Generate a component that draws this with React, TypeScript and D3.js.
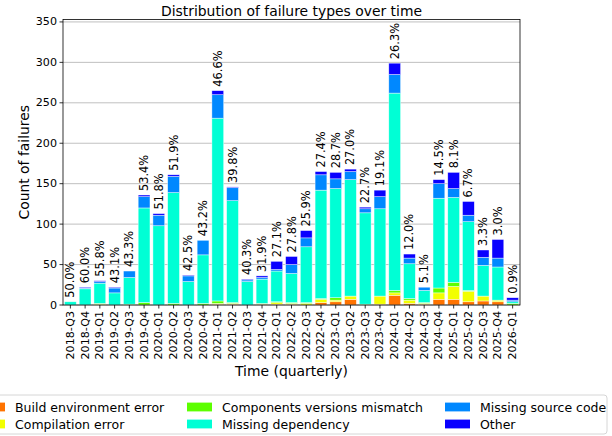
import React from "react";
import * as d3 from "d3";

const categories = [
  "2018-Q3", "2018-Q4",
  "2019-Q1", "2019-Q2", "2019-Q3", "2019-Q4",
  "2020-Q1", "2020-Q2", "2020-Q3", "2020-Q4",
  "2021-Q1", "2021-Q2", "2021-Q3", "2021-Q4",
  "2022-Q1", "2022-Q2", "2022-Q3", "2022-Q4",
  "2023-Q1", "2023-Q2", "2023-Q3", "2023-Q4",
  "2024-Q1", "2024-Q2", "2024-Q3", "2024-Q4",
  "2025-Q1", "2025-Q2", "2025-Q3", "2025-Q4",
  "2026-Q1",
];

const buildEnvironmentError = [0, 0, 0, 0, 0, 0, 0, 0, 0, 0, 1, 1, 0, 1, 1, 1, 0, 3, 4, 7, 0, 1, 12, 2, 1, 7, 7, 4, 5, 4, 0];
const compilationError = [0, 0, 1, 0, 0, 0, 0, 0, 0, 0, 1, 1, 0, 0, 2, 1, 2, 4, 2, 4, 0, 10, 3, 4, 1, 8, 16, 13, 6, 2, 0];
const componentsVersionsMismatch = [0, 0, 1, 0, 1, 3, 0, 2, 0, 2, 3, 1, 0, 1, 1, 1, 1, 1, 3, 0, 1, 0, 3, 2, 1, 6, 5, 1, 0, 0, 2];
const missingDependency = [4, 20, 25, 15, 33, 117, 98, 137, 29, 60, 226, 126, 29, 30, 38, 36, 69, 134, 135, 144, 113, 108, 244, 43, 15, 111, 105, 85, 38, 41, 2];
const missingSourceCode = [0, 1, 2, 6, 8, 14, 13, 20, 7, 18, 29, 16, 2, 2, 2, 11, 11, 19, 12, 10, 5, 15, 23, 7, 4, 18, 11, 8, 10, 11, 2];
const other = [0, 1, 1, 1, 0, 2, 2, 2, 1, 0, 5, 1, 1, 2, 10, 10, 9, 4, 8, 3, 2, 8, 14, 5, 0, 5, 20, 17, 9, 23, 3];

const percentLabels = [
  "50.0%", "60.0%", "55.8%", "43.1%", "43.3%", "53.4%", "51.8%", "51.9%",
  "42.5%", "43.2%", "46.6%", "39.8%", "40.3%", "31.9%", "27.1%", "27.8%",
  "25.9%", "27.4%", "28.7%", "27.0%", "22.7%", "19.1%", "26.3%", "12.0%",
  "5.1%", "14.5%", "8.1%", "6.7%", "3.3%", "3.0%", "0.9%",
];

const seriesNames = [
  "Build environment error",
  "Compilation error",
  "Components versions mismatch",
  "Missing dependency",
  "Missing source code",
  "Other",
];
const seriesValues = [
  buildEnvironmentError,
  compilationError,
  componentsVersionsMismatch,
  missingDependency,
  missingSourceCode,
  other,
];
const seriesColors = ["#ff7300", "#f2ff00", "#5cff00", "#00ffd5", "#0088ff", "#0a00ff"];

const yTicks = [0, 50, 100, 150, 200, 250, 300, 350];

const W = 612;
const H = 436;
const M = { left: 63, right: 520, top: 19.5, bottom: 305 };
const FONT = "DejaVu Sans, sans-serif";

export default function App() {
  const rows = categories.map((c, i) => {
    const r: any = { cat: c };
    seriesNames.forEach((s, k) => (r[s] = seriesValues[k][i]));
    return r;
  });
  const stacked = d3.stack().keys(seriesNames)(rows);
  const totals = categories.map((_, i) => seriesValues.reduce((a, s) => a + s[i], 0));

  const x = d3.scaleBand().domain(categories).range([M.left, M.right]).paddingInner(0.2).paddingOuter(0.1);
  const y = d3.scaleLinear().domain([0, 353]).range([M.bottom, M.top]);

  const legendCols = [
    { x: -20, items: [0, 1] },
    { x: 187, items: [2, 3] },
    { x: 445, items: [4, 5] },
  ];
  const legendRows = [407, 424];

  return (
    <svg width={W} height={H} style={{ position: "fixed", left: 0, top: 0, background: "#fff" }} fontFamily={FONT}>
      <rect x={0} y={0} width={W} height={H} fill="#fff" />
      {/* grid */}
      {yTicks.map((t) => (
        <line key={"g" + t} x1={M.left} x2={M.right} y1={y(t)} y2={y(t)} stroke="#b0b0b0" strokeWidth={0.8} />
      ))}
      {/* bars */}
      {stacked.map((layer, k) => (
        <g key={layer.key} fill={seriesColors[k]}>
          {layer.map((d, i) =>
            d[1] - d[0] > 0 ? (
              <rect
                key={i}
                x={x(categories[i])}
                width={x.bandwidth()}
                y={y(d[1])}
                height={y(d[0]) - y(d[1])}
                stroke="#ffffff"
                strokeOpacity={0.7}
                strokeWidth={0.6}
              />
            ) : null
          )}
        </g>
      ))}
      {/* percent labels */}
      {categories.map((c, i) => (
        <text
          key={"p" + c}
          transform={`translate(${x(c)! + x.bandwidth() / 2},${y(totals[i]) - 4}) rotate(-90)`}
          textAnchor="start"
          dominantBaseline="central"
          fontSize={11.4}
          fill="#000"
        >
          {percentLabels[i]}
        </text>
      ))}
      {/* frame */}
      <rect x={M.left} y={M.top} width={M.right - M.left} height={M.bottom - M.top} fill="none" stroke="#000" strokeWidth={0.8} />
      {/* y axis */}
      {yTicks.map((t) => (
        <g key={"y" + t}>
          <line x1={M.left - 3.5} x2={M.left} y1={y(t)} y2={y(t)} stroke="#000" strokeWidth={0.8} />
          <text x={M.left - 6} y={y(t)} textAnchor="end" dominantBaseline="central" fontSize={11.1}>
            {t}
          </text>
        </g>
      ))}
      {/* x axis */}
      {categories.map((c) => {
        const cx = x(c)! + x.bandwidth() / 2;
        return (
          <g key={"x" + c}>
            <line x1={cx} x2={cx} y1={M.bottom} y2={M.bottom + 3.5} stroke="#000" strokeWidth={0.8} />
            <text
              transform={`translate(${cx},${M.bottom + 6}) rotate(-90)`}
              textAnchor="end"
              dominantBaseline="central"
              fontSize={11.1}
            >
              {c}
            </text>
          </g>
        );
      })}
      <text x={(M.left + M.right) / 2} y={371} textAnchor="middle" dominantBaseline="central" fontSize={13.9}>
        Time (quarterly)
      </text>
      <text
        transform={`translate(24,${(M.top + M.bottom) / 2}) rotate(-90)`}
        textAnchor="middle"
        dominantBaseline="central"
        fontSize={13.9}
      >
        Count of failures
      </text>
      <text x={(M.left + M.right) / 2} y={11} textAnchor="middle" dominantBaseline="central" fontSize={13.9}>
        Distribution of failure types over time
      </text>
      {/* legend */}
      <rect x={-30} y={395} width={637} height={39} rx={3} fill="#fff" fillOpacity={0.8} stroke="#cccccc" strokeWidth={0.8} />
      {legendCols.map((col) =>
        col.items.map((k, r) => (
          <g key={"l" + k}>
            <rect x={col.x} y={legendRows[r] - 4.4} width={25} height={8.8} fill={seriesColors[k]} />
            <text x={col.x + 35} y={legendRows[r]} dominantBaseline="central" fontSize={12.5}>
              {seriesNames[k]}
            </text>
          </g>
        ))
      )}
    </svg>
  );
}
